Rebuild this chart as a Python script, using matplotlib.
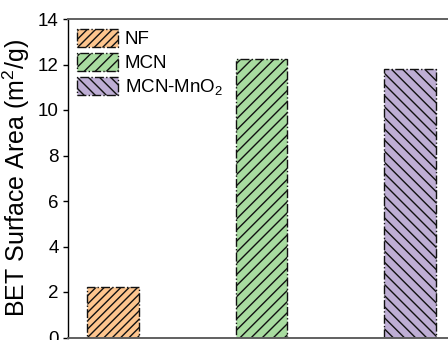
import matplotlib
matplotlib.use("Agg")
import matplotlib.pyplot as plt
from matplotlib.patches import Patch

plt.rcParams['font.family'] = ['Liberation Sans', 'DejaVu Sans']
plt.rcParams['hatch.linewidth'] = 1.0
plt.rcParams['mathtext.fontset'] = 'custom'
plt.rcParams['mathtext.rm'] = 'Liberation Sans'
plt.rcParams['mathtext.it'] = 'Liberation Sans:italic'

categories = ['NF', 'MCN', 'MCN-MnO$_2$']
values = [2.2, 12.22, 11.8]
colors = ['#FDC58E', '#A8DCA0', '#BEAED4']
hatches = ['////', '///', '\\\\\\']
yticks = [0, 2, 4, 6, 8, 10, 12, 14]

W, H = 448, 340
fig = plt.figure(figsize=(W / 100, H / 100), dpi=100)
left, right, bottom, top = 68, 460, 2.5, 321
ax = fig.add_axes([left / W, bottom / H, (right - left) / W, (top - bottom) / H])

x = list(range(len(categories)))
bars = ax.bar(x, values, width=0.35, color=colors, edgecolor='#111111',
              linewidth=1.0, linestyle='-.')
for b, h in zip(bars, hatches):
    b.set_hatch(h)

ax.set_xlim(-0.303, -0.303 + (right - left) / 148.5)
ax.set_ylim(0, 14)
ax.set_yticks(yticks)
ax.set_xticks([])
ax.tick_params(axis='y', labelsize=13.5, length=3.6, width=1.0, pad=3.0, direction='out')
ax.set_ylabel('BET Surface Area (m$^2$/g)', fontsize=18, labelpad=4)

ax.spines['left'].set_color('black')
ax.spines['left'].set_linewidth(1.0)
for s in ['top', 'bottom']:
    ax.spines[s].set_color('#606060')
    ax.spines[s].set_linewidth(1.4)
ax.spines['right'].set_visible(False)

handles = [Patch(facecolor=c, edgecolor='#111111', hatch=h, linestyle='-.', linewidth=1.0)
           for c, h in zip(colors, hatches)]
ax.legend(handles, categories, loc='upper left', bbox_to_anchor=(0.023, 0.969),
          frameon=False, fontsize=13.5, borderpad=0, borderaxespad=0,
          handlelength=2.2, handleheight=1.1, handletextpad=0.35, labelspacing=0.25)

fig.savefig('out.png', dpi=100)
